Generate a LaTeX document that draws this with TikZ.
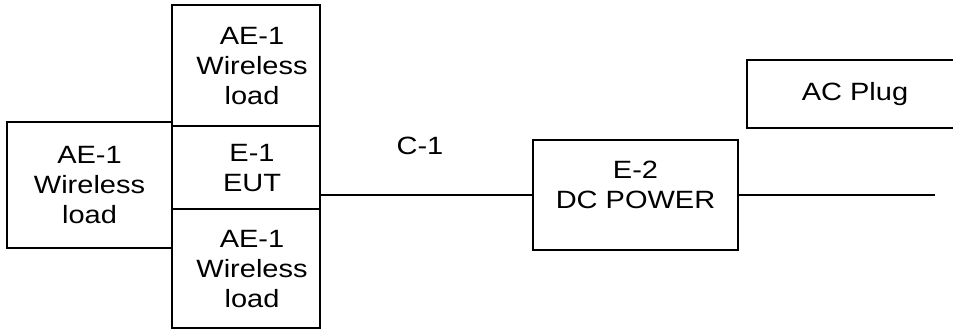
\documentclass[tikz,border=0pt]{standalone}
\usepackage{fontspec}
\setmainfont[FakeStretch=1.16]{Liberation Sans}
\usepackage{tikz}
\usetikzlibrary{positioning}

\newcommand{\colbox}[1]{\hspace*{6pt}\raisebox{-1.25pt}[\height][\depth]{\begin{tabular}{@{}c@{}}#1\end{tabular}}}

\begin{document}
\begin{tikzpicture}[x=.5pt,y=-.5pt,
        blk/.style={draw,line width=1pt,align=center,inner sep=0pt,font=\fontsize{12.5}{15}\selectfont},
        wire/.style={line width=.8pt}]
            \useasboundingbox (0,0) rectangle (953,329);
            \node[blk,minimum width=74pt,minimum height=60.5pt] (aetop) at (246,65.5) {\colbox{AE-1\\Wireless\\load}};
            \node[blk,minimum width=74pt,minimum height=41.5pt] (eut) at (246,167.5) {\colbox{E-1\\EUT}};
            \node[blk,minimum width=74pt,minimum height=59.5pt] (aebot) at (246,268.5) {\colbox{AE-1\\Wireless\\load}};
            \node[blk,minimum width=82.5pt,minimum height=63pt] (aeleft) at (89.5,185) {AE-1\\Wireless\\load};
            \node[blk,minimum width=108pt,minimum height=34pt] (acplug) at (855,94) {AC Plug};
            \node[blk,minimum width=102.5pt,minimum height=55pt,text depth=10.5pt] (dcpow) at (635.5,195) {E-2\\DC POWER};
            \node[font=\fontsize{12.5}{15}\selectfont] (cable) at (420,146) {C-1};
            \coordinate (plugend) at (935,195);
            \draw[wire] (dcpow.west) -- (dcpow.west -| eut.east);
            \draw[wire] (dcpow.east) -- (plugend);
        \end{tikzpicture}
\end{document}
